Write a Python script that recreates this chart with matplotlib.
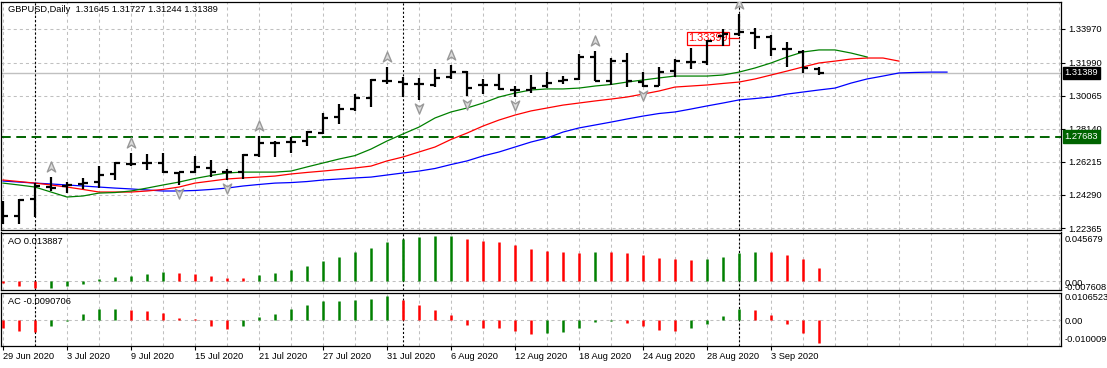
import matplotlib
matplotlib.use("Agg")
import matplotlib.pyplot as plt
from matplotlib.path import Path
from matplotlib.transforms import offset_copy, blended_transform_factory
import numpy as np

plt.rcParams['font.family'] = ['Liberation Sans', 'DejaVu Sans']
plt.rcParams['lines.scale_dashes'] = False

# ---- data ----
dates = ["29 Jun 2020", "30 Jun 2020", "1 Jul 2020", "2 Jul 2020", "3 Jul 2020",
         "6 Jul 2020", "7 Jul 2020", "8 Jul 2020", "9 Jul 2020", "10 Jul 2020",
         "13 Jul 2020", "14 Jul 2020", "15 Jul 2020", "16 Jul 2020", "17 Jul 2020",
         "20 Jul 2020", "21 Jul 2020", "22 Jul 2020", "23 Jul 2020", "24 Jul 2020",
         "27 Jul 2020", "28 Jul 2020", "29 Jul 2020", "30 Jul 2020", "31 Jul 2020",
         "3 Aug 2020", "4 Aug 2020", "5 Aug 2020", "6 Aug 2020", "7 Aug 2020",
         "10 Aug 2020", "11 Aug 2020", "12 Aug 2020", "13 Aug 2020", "14 Aug 2020",
         "17 Aug 2020", "18 Aug 2020", "19 Aug 2020", "20 Aug 2020", "21 Aug 2020",
         "24 Aug 2020", "25 Aug 2020", "26 Aug 2020", "27 Aug 2020", "28 Aug 2020",
         "31 Aug 2020", "1 Sep 2020", "2 Sep 2020", "3 Sep 2020", "4 Sep 2020",
         "7 Sep 2020", "8 Sep 2020"]

opens = [1.2330, 1.2306, 1.2405, 1.2475, 1.2481, 1.2493, 1.2504, 1.2551, 1.2609, 1.2615,
         1.2615, 1.2557, 1.2560, 1.2586, 1.2563, 1.2563, 1.2661, 1.2731, 1.2737, 1.2743,
         1.2789, 1.2883, 1.2929, 1.2993, 1.3092, 1.3086, 1.3075, 1.3069, 1.3115, 1.3145,
         1.3069, 1.3069, 1.3040, 1.3040, 1.3063, 1.3092, 1.3104, 1.3232, 1.3092, 1.3209,
         1.3086, 1.3063, 1.3150, 1.3203, 1.3203, 1.3354, 1.3366, 1.3371, 1.3348, 1.3278,
         1.3261, 1.31645]
highs = [1.2394, 1.2405, 1.2498, 1.2533, 1.2504, 1.2528, 1.2597, 1.2621, 1.2673, 1.2667,
         1.2673, 1.2563, 1.2656, 1.2632, 1.2580, 1.2667, 1.2772, 1.2743, 1.2766, 1.2801,
         1.2906, 1.2958, 1.3016, 1.3104, 1.3174, 1.3115, 1.3110, 1.3162, 1.3185, 1.3150,
         1.3104, 1.3133, 1.3063, 1.3127, 1.3145, 1.3121, 1.3249, 1.3267, 1.3226, 1.3255,
         1.3145, 1.3174, 1.3220, 1.3284, 1.3331, 1.3395, 1.3482, 1.3400, 1.3360, 1.3319,
         1.3273, 1.31727]
lows = [1.2260, 1.2260, 1.2301, 1.2452, 1.2440, 1.2464, 1.2469, 1.2516, 1.2597, 1.2574,
        1.2557, 1.2487, 1.2557, 1.2533, 1.2516, 1.2522, 1.2650, 1.2650, 1.2673, 1.2714,
        1.2784, 1.2842, 1.2918, 1.2941, 1.3075, 1.2999, 1.2982, 1.3057, 1.3104, 1.3005,
        1.3016, 1.3040, 1.2999, 1.3022, 1.3051, 1.3075, 1.3098, 1.3092, 1.3069, 1.3057,
        1.3057, 1.3063, 1.3115, 1.3162, 1.3185, 1.3296, 1.3354, 1.3278, 1.3238, 1.3174,
        1.3139, 1.31244]
closes = [1.2306, 1.2400, 1.2481, 1.2469, 1.2487, 1.2498, 1.2545, 1.2615, 1.2612, 1.2615,
          1.2560, 1.2560, 1.2592, 1.2560, 1.2565, 1.2661, 1.2731, 1.2731, 1.2737, 1.2795,
          1.2877, 1.2929, 1.2993, 1.3098, 1.3092, 1.3075, 1.3075, 1.3110, 1.3145, 1.3051,
          1.3069, 1.3046, 1.3040, 1.3051, 1.3080, 1.3098, 1.3232, 1.3092, 1.3209, 1.3092,
          1.3063, 1.3145, 1.3209, 1.3203, 1.3325, 1.3366, 1.3377, 1.3348, 1.3278, 1.3278,
          1.3168, 1.31389]

# Alligator lines (already shifted forward: jaw +8, teeth +5, lips +3)
jaw = [1.2510, 1.2504, 1.2498, 1.2493, 1.2487, 1.2481, 1.2475, 1.2469, 1.2464, 1.2458,
       1.2452, 1.2452, 1.2455, 1.2461, 1.2469, 1.2481, 1.2490, 1.2498, 1.2501, 1.2507,
       1.2516, 1.2522, 1.2528, 1.2533, 1.2545, 1.2557, 1.2568, 1.2583, 1.2606, 1.2627,
       1.2656, 1.2679, 1.2708, 1.2737, 1.2760, 1.2795, 1.2819, 1.2836, 1.2853, 1.2871,
       1.2888, 1.2903, 1.2912, 1.2929, 1.2947, 1.2964, 1.2982, 1.2990, 1.2999, 1.3016,
       1.3028, 1.3040, 1.3051, 1.3080, 1.3104, 1.3121, 1.3139, 1.3142, 1.3144, 1.3144]
teeth = [1.2516, 1.2507, 1.2498, 1.2487, 1.2475, 1.2461, 1.2446, 1.2446, 1.2446, 1.2452,
         1.2461, 1.2475, 1.2498, 1.2510, 1.2522, 1.2528, 1.2533, 1.2539, 1.2551, 1.2560,
         1.2568, 1.2577, 1.2586, 1.2597, 1.2627, 1.2650, 1.2679, 1.2708, 1.2752, 1.2789,
         1.2830, 1.2865, 1.2894, 1.2918, 1.2935, 1.2952, 1.2964, 1.2976, 1.2987, 1.2999,
         1.3016, 1.3034, 1.3057, 1.3063, 1.3069, 1.3078, 1.3086, 1.3104, 1.3127, 1.3150,
         1.3174, 1.3197, 1.3208, 1.3220, 1.3226, 1.3226, 1.3208]
lips = [1.2498, 1.2487, 1.2475, 1.2446, 1.2417, 1.2423, 1.2440, 1.2443, 1.2452, 1.2469,
        1.2487, 1.2504, 1.2525, 1.2542, 1.2557, 1.2562, 1.2562, 1.2562, 1.2568, 1.2592,
        1.2615, 1.2638, 1.2658, 1.2696, 1.2743, 1.2784, 1.2824, 1.2877, 1.2912, 1.2935,
        1.2964, 1.2999, 1.3022, 1.3040, 1.3046, 1.3046, 1.3051, 1.3063, 1.3072, 1.3086,
        1.3098, 1.3110, 1.3121, 1.3121, 1.3121, 1.3127, 1.3144, 1.3168, 1.3197, 1.3232,
        1.3261, 1.3273, 1.3273, 1.3255, 1.3232]

up_fractals = [3, 8, 16, 24, 28, 37, 46]
down_fractals = [11, 14, 26, 29, 32, 40]
month_starts = [2, 25, 46]

ao = [-0.0013, -0.0043, -0.0063, -0.0061, -0.0043, -0.0023, 0.0023, 0.0043, 0.0053, 0.0072,
      0.0095, 0.0082, 0.0072, 0.0053, 0.0033, 0.0030, 0.0063, 0.0082, 0.0112, 0.0151,
      0.0201, 0.0240, 0.0290, 0.0339, 0.0398, 0.0428, 0.0441, 0.0455, 0.0457, 0.0428,
      0.0408, 0.0398, 0.0368, 0.0329, 0.0309, 0.0290, 0.0288, 0.0299, 0.0290, 0.0280,
      0.0260, 0.0230, 0.0220, 0.0211, 0.0220, 0.0240, 0.0280, 0.0299, 0.0290, 0.0260,
      0.0220, 0.013887]
ac = [-0.0030, -0.0044, -0.0047, -0.0025, -0.0005, 0.0023, 0.0042, 0.0043, 0.0038, 0.0034,
      0.0026, 0.0008, 0.0002, -0.0023, -0.0034, -0.0026, 0.0010, 0.0023, 0.0042, 0.0057,
      0.0072, 0.0073, 0.0076, 0.0083, 0.0091, 0.0079, 0.0057, 0.0038, 0.0019, -0.0019,
      -0.0030, -0.0031, -0.0044, -0.0057, -0.0053, -0.0048, -0.0030, -0.0010, -0.0006, -0.0011,
      -0.0023, -0.0038, -0.0042, -0.0030, -0.0015, 0.0015, 0.0042, 0.0038, 0.0019, -0.0015,
      -0.0053, -0.0090706]

price_ticks = [1.33970, 1.31990, 1.30065, 1.28140, 1.26215, 1.24290, 1.22365]
last_price = 1.31389
support = 1.27683
alert_price = 1.33399

# ---- layout (pixel based) ----
W, H = 1107, 368
fig = plt.figure(figsize=(W / 100, H / 100), dpi=100)


def box(l, t, r, b):
    return [l / W, 1 - b / H, (r - l) / W, (b - t) / H]


ax = fig.add_axes(box(1, 2, 1061, 230))
ax_ao = fig.add_axes(box(1, 232.5, 1061, 290))
ax_ac = fig.add_axes(box(1, 292.5, 1061, 345.5))

x = np.arange(len(opens))
grid_kw = dict(color='#c0c0c0', lw=0.75, dashes=(2.2, 2.2), zorder=0)

for a in (ax, ax_ao, ax_ac):
    a.set_xlim(-0.125, 66.125)
    for s in a.spines.values():
        s.set_linewidth(0.9)
        s.set_color('black')
    for gx in range(0, 67, 2):
        a.axvline(gx, **grid_kw)
    for m in month_starts:
        a.axvline(m, color='black', lw=0.8, dashes=(1.5, 1.5), zorder=1)
    a.tick_params(left=False, labelleft=False, bottom=False, labelbottom=False)

# ---- main price window ----
ax.set_ylim(1.2225, 1.3552)
for p in price_ticks:
    ax.axhline(p, **grid_kw)
ax.axhline(last_price, color='#c0c0c0', lw=1.0, zorder=1)
ax.axhline(support, color='#006400', lw=1.4, dashes=(7, 4), zorder=2)

ax.plot(np.arange(len(jaw)), jaw, color='#0000ff', lw=0.9, zorder=3)
ax.plot(np.arange(len(teeth)), teeth, color='#ff0000', lw=0.9, zorder=3)
ax.plot(np.arange(len(lips)), lips, color='#008000', lw=0.9, zorder=3)

ax.vlines(x, lows, highs, color='black', lw=1.6, zorder=5)
ax.hlines(opens, x - 0.3, x, color='black', lw=1.6, zorder=5)
ax.hlines(closes, x, x + 0.3, color='black', lw=1.6, zorder=5)

# fractal arrows
up_arrow = Path([(0, 1), (0.75, -0.8), (0, -0.3), (-0.75, -0.8), (0, 1)],
                [Path.MOVETO, Path.LINETO, Path.LINETO, Path.LINETO, Path.CLOSEPOLY])
down_arrow = Path([(0, -1), (0.75, 0.8), (0, 0.3), (-0.75, 0.8), (0, -1)],
                  [Path.MOVETO, Path.LINETO, Path.LINETO, Path.LINETO, Path.CLOSEPOLY])
up_tr = offset_copy(ax.transData, fig=fig, y=10, units='dots')
dn_tr = offset_copy(ax.transData, fig=fig, y=-8, units='dots')
ax.plot(up_fractals, [highs[i] for i in up_fractals], ls='none', marker=up_arrow,
        ms=8, mfc='#dcdcdc', mec='#999999', mew=1.0, transform=up_tr, zorder=4)
ax.plot(down_fractals, [lows[i] for i in down_fractals], ls='none', marker=down_arrow,
        ms=8, mfc='#dcdcdc', mec='#999999', mew=1.0, transform=dn_tr, zorder=4)

# alert label
ax.text(45.3, alert_price, "1.33399", color='#ff0000', fontsize=7.8, ha='right',
        va='center', zorder=4,
        bbox=dict(boxstyle='square,pad=0.12', fc='white', ec='#ff0000', lw=0.9))
ax.hlines(alert_price, 45.3, 46, color='#ff0000', lw=0.9, zorder=4)

ax.yaxis.tick_right()
ax.set_yticks(price_ticks)
ax.set_yticklabels(["%.5f" % p for p in price_ticks])
ax.tick_params(axis='y', right=True, labelright=True, length=3, width=0.8, pad=2,
               labelsize=6.7)

ytr = blended_transform_factory(ax.transAxes, ax.transData)
ax.text(1.0035, last_price, "%.5f" % last_price, transform=ytr, fontsize=6.7,
        color='white', va='center', ha='left', zorder=6, clip_on=False,
        bbox=dict(boxstyle='square,pad=0.2', fc='black', ec='black'))
ax.text(1.0035, support, "%.5f" % support, transform=ytr, fontsize=6.7,
        color='white', va='center', ha='left', zorder=6, clip_on=False,
        bbox=dict(boxstyle='square,pad=0.2', fc='#006400', ec='#006400'))

fig.text(8 / W, 1 - 10 / H, "GBPUSD,Daily  %.5f %.5f %.5f %.5f"
         % (opens[-1], highs[-1], lows[-1], closes[-1]), fontsize=6.7, va='center')

# ---- AO window ----
ao_col = ['#ff0000'] + ['#008000' if ao[i] > ao[i - 1] else '#ff0000' for i in range(1, len(ao))]
ax_ao.set_ylim(-0.00855, 0.0490)
ax_ao.axhline(0, **grid_kw)
ax_ao.vlines(x, 0, ao, colors=ao_col, lw=1.8, zorder=3)
fig.text(8 / W, 1 - 241 / H, "AO %.6f" % ao[-1], fontsize=6.7, va='center')
fig.text(1065 / W, 1 - 240 / H, "0.045679", fontsize=6.7, va='center')
# the two bottom labels overlap in the original too
fig.text(1065 / W, 1 - 287 / H, "-0.007608", fontsize=6.7, va='center')
fig.text(1065 / W, 1 - 284 / H, "0.00", fontsize=6.7, va='center')

# ---- AC window ----
ac_col = ['#ff0000'] + ['#008000' if ac[i] > ac[i - 1] else '#ff0000' for i in range(1, len(ac))]
ax_ac.set_ylim(-0.010009, 0.0106523)
ax_ac.axhline(0, **grid_kw)
ax_ac.vlines(x, 0, ac, colors=ac_col, lw=1.8, zorder=3)
fig.text(8 / W, 1 - 302 / H, "AC %.7f" % ac[-1], fontsize=6.7, va='center')
fig.text(1065 / W, 1 - 298 / H, "0.0106523", fontsize=6.7, va='center')
fig.text(1065 / W, 1 - 321 / H, "0.00", fontsize=6.7, va='center')
fig.text(1065 / W, 1 - 339 / H, "-0.010009", fontsize=6.7, va='center')

ax_ac.set_xticks(x[::4])
ax_ac.set_xticklabels(dates[::4], ha='left')
ax_ac.tick_params(axis='x', bottom=True, labelbottom=True, length=3, width=0.8, pad=2,
                  labelsize=6.7)

fig.savefig("out.png", dpi=100)
